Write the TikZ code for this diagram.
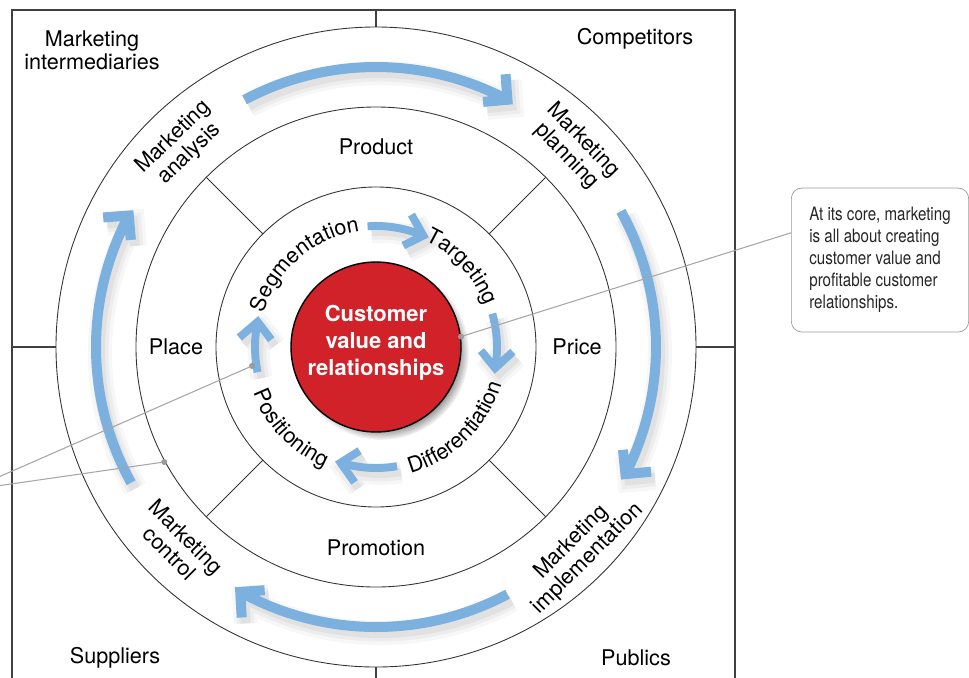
\documentclass[tikz,border=0pt]{standalone}
\usepackage{fontspec}
\setmainfont{TeX Gyre Heros}
\newfontfamily\narrowfont[FakeStretch=0.82]{TeX Gyre Heros}
\usetikzlibrary{decorations.text,shadows}
\definecolor{flowblue}{RGB}{123,176,223}
\definecolor{corered}{RGB}{209,34,42}

\begin{document}
\begin{tikzpicture}[x=0.02cm, y=0.02cm,
    ring/.style ={draw=black!80, line width=0.5pt},
    lbl/.style ={font=\fontsize{12.3}{13.2}\selectfont, align=center, inner sep=0pt},
    softshadow/.style ={preaction={draw=black, opacity=0.03, line width=#1+8pt, transform canvas={shift={(4,-6)}}},
                        preaction={draw=black, opacity=0.04, line width=#1+4pt, transform canvas={shift={(4,-6)}}},
                        preaction={draw=black, opacity=0.05, line width=#1, transform canvas={shift={(4,-6)}}}},
    outerflow/.style ={draw=flowblue, line width=5.7pt, line join=miter, softshadow=5.7pt},
    innerflow/.style ={draw=flowblue, line width=4.5pt, line join=miter, softshadow=4.5pt},
    along/.style ={decorate, decoration={text along path, text align=center,
                   text={|\fontsize{12.3}{14}\selectfont|#1}}},
    pointer/.style ={draw=black!35, line width=0.6pt},
    dot/.style ={circle, fill=black!40, inner sep=0pt, minimum size=3.4pt}]

   \useasboundingbox (-376,-330) rectangle (593,347);

   % frame and the four corners
   \draw[black!75, line width=0.6pt] (-364,-343) -- (-364,337) -- (359,337) -- (359,-343);
   \draw[black!75, line width=0.6pt] (0,320) -- (0,337);
   \draw[black!75, line width=0.6pt] (0,-320) -- (0,-343);
   \draw[black!75, line width=0.6pt] (-320,0) -- (-364,0);
   \draw[black!75, line width=0.6pt] (320,0) -- (359,0);

   \node[lbl] (inter) at (-284,297) {Marketing\\intermediaries};
   \node[lbl] (comp) at (259,308) {Competitors};
   \node[lbl] (supp) at (-261,-311) {Suppliers};
   \node[lbl] (publ) at (260,-311) {Publics};

   % rings
   \draw[ring] (0,0) circle (320);
   \draw[ring] (0,0) circle (240);
   \draw[ring] (0,0) circle (160);
   \foreach \a in {45,135,225,315}
      \draw[ring] (\a:160) -- (\a:240);

   \node[lbl] (prod) at (90:200) {Product};
   \node[lbl] (price) at (0:201) {Price};
   \node[lbl] (prom) at (270:201) {Promotion};
   \node[lbl] (place) at (180:200) {Place};

   % marketing process
   \node[lbl, rotate=44] (anal) at (134:280) {Marketing\\analysis};
   \node[lbl, rotate=-46] (plan) at (45:281) {Marketing\\planning};
   \node[lbl, rotate=45] (impl) at (-45:288) {Marketing\\implementation};
   \node[lbl, rotate=-45] (ctrl) at (225:280) {Marketing\\control};

   % clockwise arcs, chevron heads turned a little inwards
   \foreach \s/\e in {118/62, 29/-27, -62/-119, 209/152}
      \draw[outerflow] (\s:280) arc[start angle=\s, end angle=\e+0.5, radius=280]
                       (\e+2.6:302) -- (\e:280) -- (\e+4.4:267.5);

   % core
   \node[circle, minimum size=3.4cm, fill=corered, draw=black, line width=0.8pt,
         circular drop shadow={shadow xshift=3pt, shadow yshift=-3pt, shadow scale=1.03}]
         (core) at (0,0) {};
   \node[text=white, align=center, font=\fontsize{12.5}{15.4}\selectfont\bfseries]
         (corelbl) at (0,4) {Customer\\value and\\relationships};

   \path[along=Segmentation] (170.6:117) arc[start angle=170.6, end angle=90.6, radius=117];
   \path[along=Targeting] (83:117) arc[start angle=83, end angle=3, radius=117];
   \path[along=Differentiation] (-85.5:131) arc[start angle=-85.5, end angle=-5.5, radius=131];
   \path[along=Positioning] (183.6:131) arc[start angle=183.6, end angle=263.6, radius=131];

   \foreach \s/\e in {94/67, 16/-10, -80/-107, 192/168}
      \draw[innerflow] (\s:121) arc[start angle=\s, end angle=\e, radius=121]
                       (\e+8:137) -- (\e:121) -- (\e+8:105);

   % callouts
   \node[draw=black!40, rounded corners=6pt, align=left, inner xsep=0.36cm, minimum height=2.88cm,
         text=black!85, font=\fontsize{10.5}{12.5}\selectfont\narrowfont]
         (note) at (504,87) {At its core, marketing\\is all about creating\\customer value and\\profitable customer\\relationships.};

   \node[dot] (d0) at (core.7) {};
   \node[dot] (d1) at (188.7:125.5) {};
   \node[dot] (d2) at (208.5:241) {};
   \coordinate (far) at (-407,-143);

   \draw[pointer] (d0.center) -- (note.163);
   \draw[pointer] (far) -- (d1.center);
   \draw[pointer] (far) -- (d2.center);

\end{tikzpicture}
\end{document}
